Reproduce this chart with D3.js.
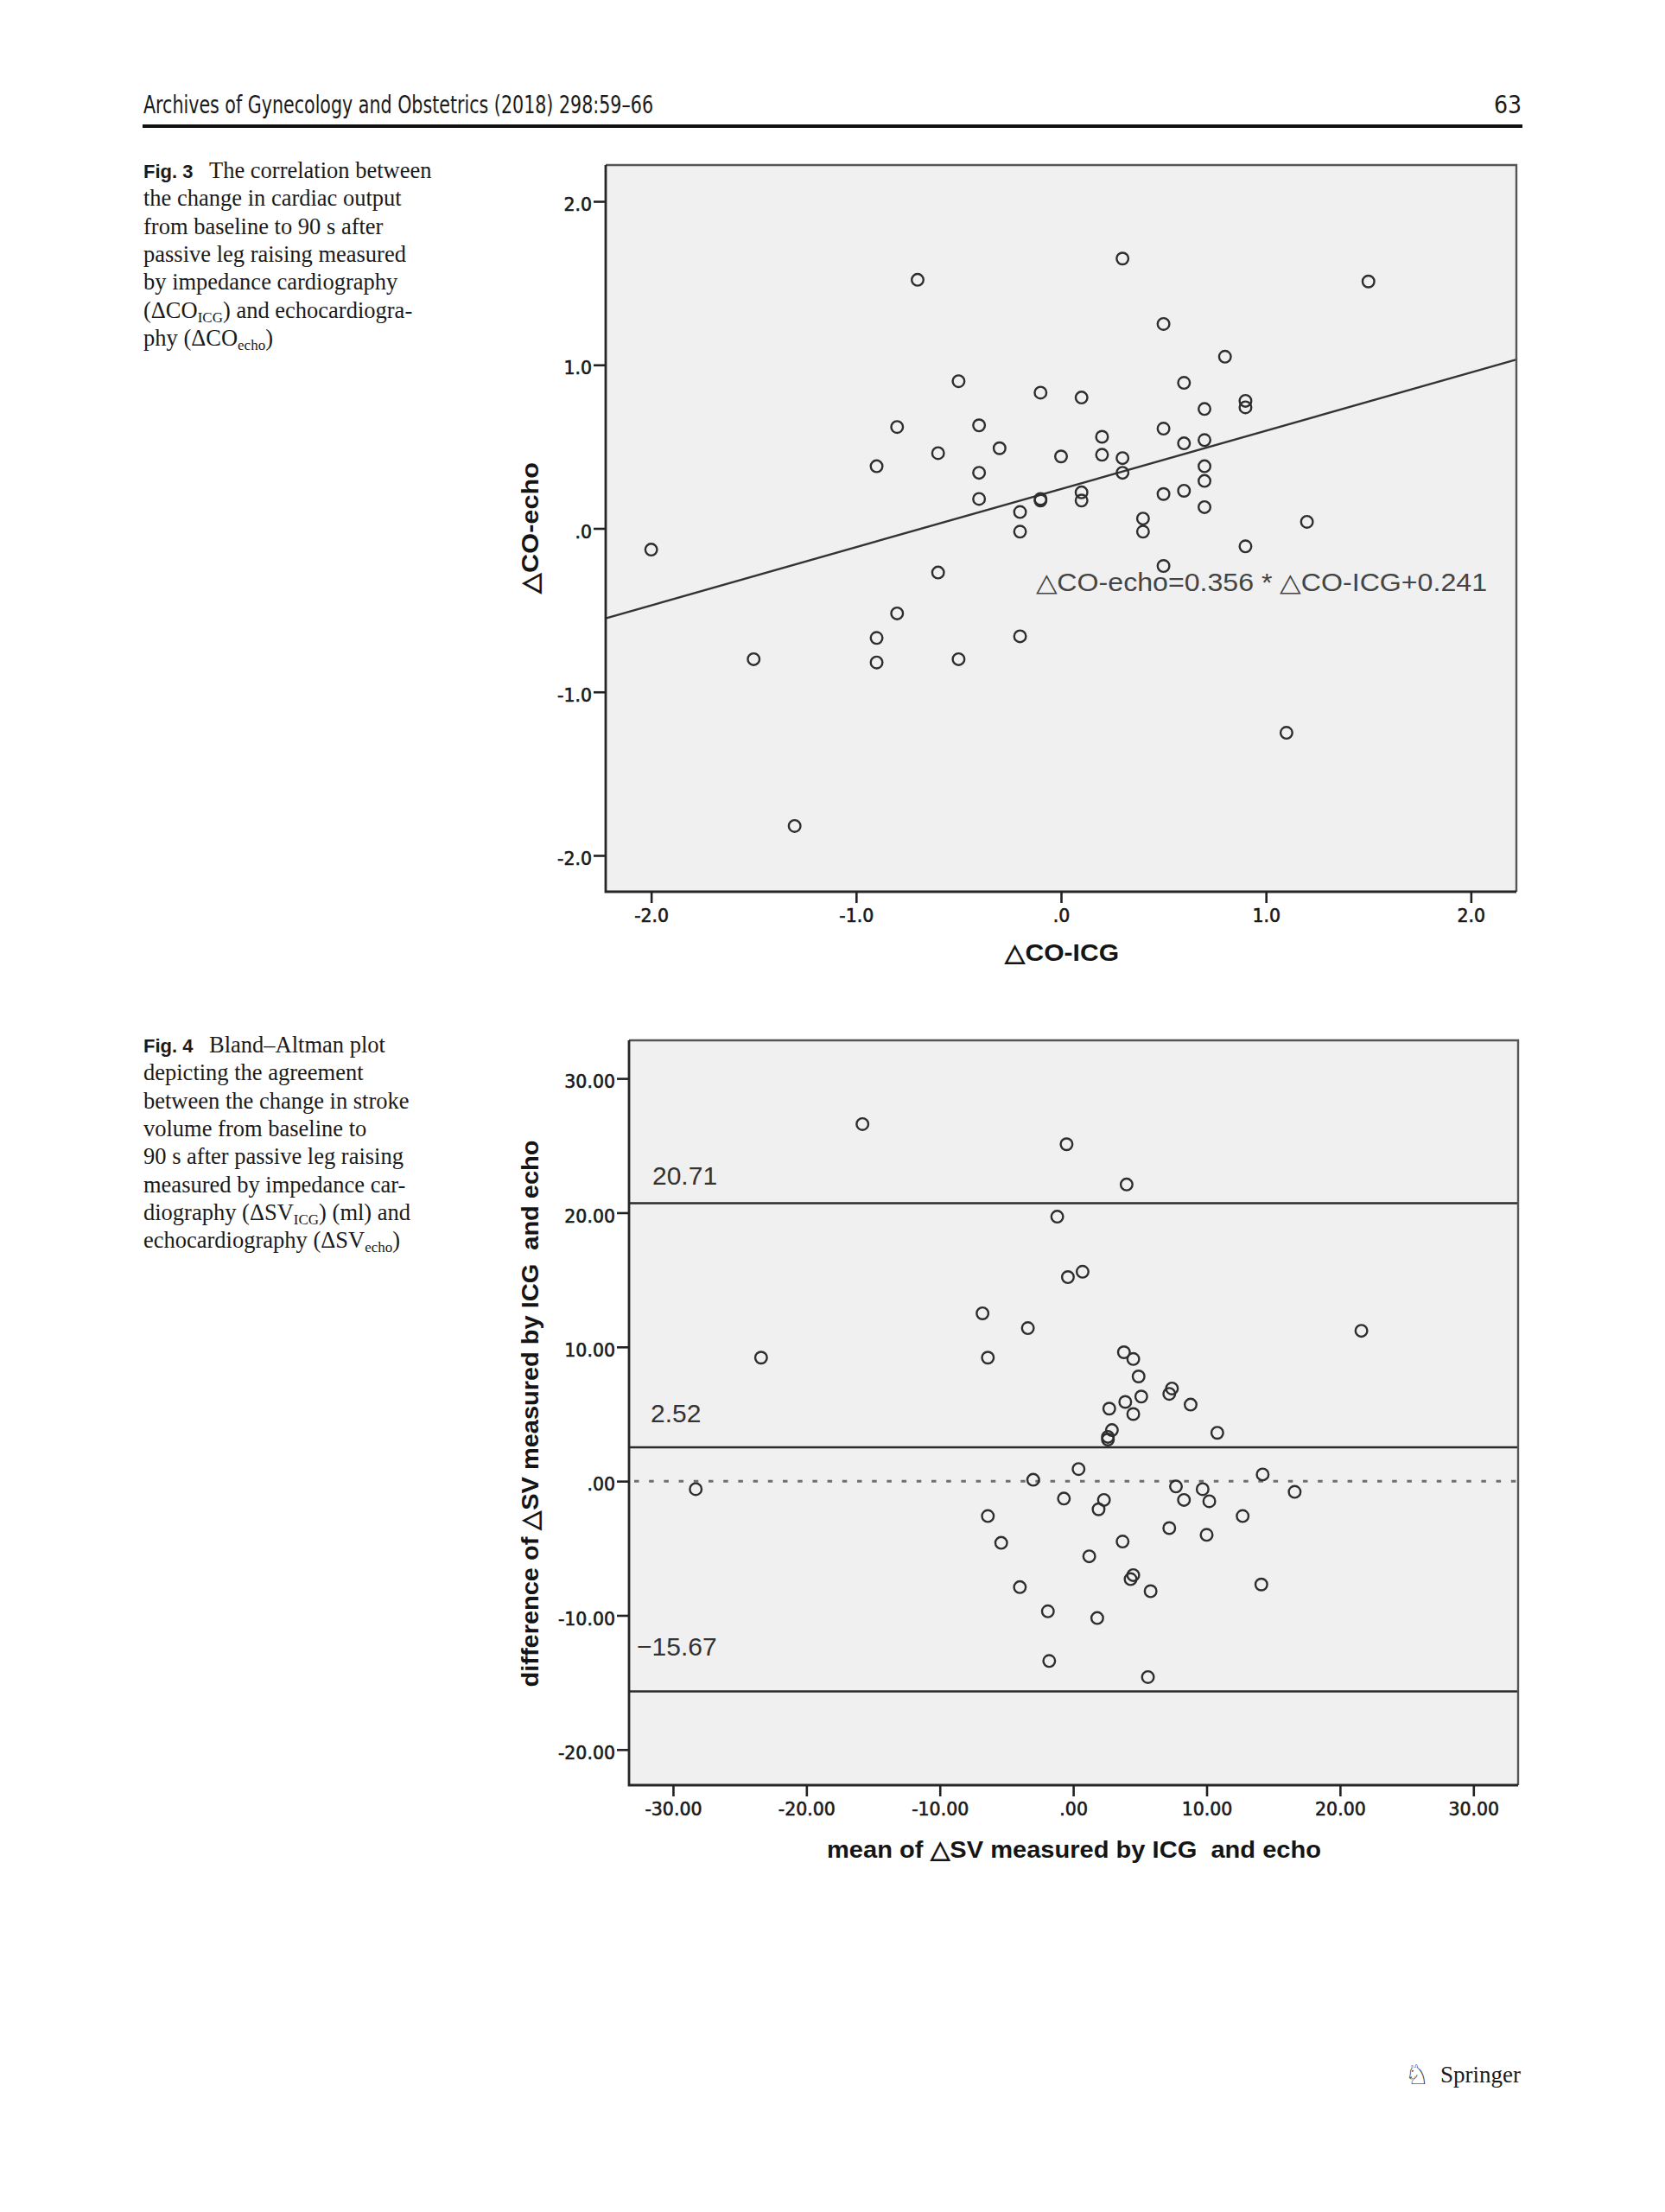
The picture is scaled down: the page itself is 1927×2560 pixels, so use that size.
<!DOCTYPE html>
<html>
<head>
<meta charset="utf-8">
<script src="https://cdn.jsdelivr.net/npm/d3@7"></script>
<style>
  body{margin:0;background:#fff}
  svg{display:block}
  .tick text{font-family:'DejaVu Sans',sans-serif;font-size:20.5px;fill:#1a1a1a;stroke:#1a1a1a;stroke-width:.6px}
  .tick line{stroke:#222;stroke-width:2.6}
</style>
</head>
<body>
<svg id="page" width="1927" height="2560"></svg>
<script>
// ---- Fig. 3 : change in cardiac output, ICG vs echo ----
const coIcg  = [-0.7, 0.3, 1.5, 0.5, 0.8,-0.5, 0.6,-0.1, 0.1, 0.9, 0.9, 0.7,-0.8,-0.4, 0.5, 0.2, 0.6, 0.7,
                -0.6,-0.3, 0.0, 0.2, 0.3,-0.9,-0.4, 0.3, 0.7, 0.7,-0.4,-0.1,-0.1, 0.1, 0.1, 0.5, 0.6, 0.7,
                -0.2,-0.2, 0.4, 0.4, 1.2,-2.0, 0.9, 0.5,-0.6,-0.8,-0.9,-0.2,-1.5,-0.9,-0.5, 1.1,-1.3];
const coEcho = [1.52,1.65,1.51,1.25,1.05,0.90,0.89,0.83,0.80,0.78,0.74,0.73,0.62,0.63,0.61,0.56,0.52,0.54,
                0.46,0.49,0.44,0.45,0.43,0.38,0.34,0.34,0.38,0.29,0.18,0.18,0.17,0.22,0.17,0.21,0.23,0.13,
                0.10,-0.02,0.06,-0.02,0.04,-0.13,-0.11,-0.23,-0.27,-0.52,-0.67,-0.66,-0.80,-0.82,-0.80,-1.25,-1.82];
const coTicks = [-2,-1,0,1,2];
const coTickLabels = ['-2.0','-1.0','.0','1.0','2.0'];
const regSlope = 0.356, regIntercept = 0.241;

// ---- Fig. 4 : Bland-Altman of change in stroke volume ----
const svMean = [-15.8,-0.5, 4.0,-1.2,-0.4, 0.7,-6.8,-3.4,21.6,-23.4,-6.4, 3.8, 4.5, 4.9, 7.4, 7.2, 5.1, 3.9,
                 2.7, 4.5, 8.8,10.8, 2.9, 2.6, 2.6, 0.4,-3.0,14.2,-28.3, 7.7, 9.7,-0.7, 2.3, 1.9, 8.3,10.2,
                16.6,-6.4,12.7, 7.2,10.0,-5.4, 3.7, 1.2, 4.5, 4.3,-4.0, 5.8,14.1,-1.9, 1.8,-1.8, 5.6];
const svDiff = [26.6,25.1,22.1,19.7,15.2,15.6,12.5,11.4,11.2, 9.2, 9.2, 9.6, 9.1, 7.8, 6.9, 6.5, 6.3, 5.9,
                 5.4, 5.0, 5.7, 3.6, 3.8, 3.3, 3.1, 0.9, 0.1, 0.5,-0.6,-0.4,-0.6,-1.3,-1.4,-2.1,-1.4,-1.5,
                -0.8,-2.6,-2.6,-3.5,-4.0,-4.6,-4.5,-5.6,-7.0,-7.3,-7.9,-8.2,-7.7,-9.7,-10.2,-13.4,-14.6];
const svXTicks = [-30,-20,-10,0,10,20,30];
const svXTickLabels = ['-30.00','-20.00','-10.00','.00','10.00','20.00','30.00'];
const svYTicks = [-20,-10,0,10,20,30];
const svYTickLabels = ['-20.00','-10.00','.00','10.00','20.00','30.00'];
const loaValues = [20.71, 2.52, -15.67];
const loaLabels = ['20.71','2.52','\u221215.67'];

// ---- captions ----
const cap3 = [
  [{t:'The correlation between'}],
  [{t:'the change in cardiac output'}],
  [{t:'from baseline to 90 s after'}],
  [{t:'passive leg raising measured'}],
  [{t:'by impedance cardiography'}],
  [{t:'(\u0394CO'},{t:'ICG',sub:1},{t:') and echocardiogra-'}],
  [{t:'phy (\u0394CO'},{t:'echo',sub:1},{t:')'}]
];
const cap4 = [
  [{t:'Bland\u2013Altman plot'}],
  [{t:'depicting the agreement'}],
  [{t:'between the change in stroke'}],
  [{t:'volume from baseline to'}],
  [{t:'90 s after passive leg raising'}],
  [{t:'measured by impedance car-'}],
  [{t:'diography (\u0394SV'},{t:'ICG',sub:1},{t:') (ml) and'}],
  [{t:'echocardiography (\u0394SV'},{t:'echo',sub:1},{t:')'}]
];

const svg = d3.select('#page');
const SANS = "'Liberation Sans',Arial,sans-serif";

// page header
svg.append('text').attr('x',166).attr('y',131)
  .style('font-family',"'Liberation Sans Narrow','DejaVu Sans Condensed',sans-serif").style('font-size','28px').attr('fill','#1a1a1a')
  .attr('textLength',590).attr('lengthAdjust','spacingAndGlyphs')
  .text('Archives of Gynecology and Obstetrics (2018) 298:59\u201366');
svg.append('text').attr('x',1761).attr('y',131).attr('text-anchor','end')
  .style('font-family',"'Liberation Sans Narrow','DejaVu Sans Condensed',sans-serif").style('font-size','28px').attr('fill','#1a1a1a')
  .text('63');
svg.append('rect').attr('x',165).attr('y',144).attr('width',1597).attr('height',4).attr('fill','#111');

function caption(num, lines, y0){
  const g = svg.append('g');
  g.append('text').attr('x',166).attr('y',y0)
    .style('font-family',SANS).style('font-weight','bold').style('font-size','22px').attr('fill','#1a1a1a')
    .text('Fig. '+num);
  lines.forEach((segs,i)=>{
    const t = g.append('text').attr('x', i===0 ? 242 : 166).attr('y', y0 + i*32.3)
      .style('font-family',"'Liberation Serif','Times New Roman',serif").style('font-size','26.5px').attr('fill','#1a1a1a');
    segs.forEach(s=>{
      const sp = t.append('tspan').text(s.t);
      if(s.sub) sp.style('font-size','17px').attr('dy',5);
      else if(t.selectAll('tspan').size()>1) sp.attr('dy',-5);
    });
  });
}
caption(3, cap3, 206);
caption(4, cap4, 1218);

function panel(x, y){
  const g = svg.append('g');
  const [x0,x1] = x.range(), [y1,y0] = y.range();
  g.append('rect').attr('x',x0).attr('y',y0).attr('width',x1-x0).attr('height',y1-y0).attr('fill','#f0f0f0');
  return g;
}
function frameLines(g, x, y){
  const [x0,x1] = x.range(), [y1,y0] = y.range();
  g.append('path').attr('d',`M${x0},${y0}H${x1}V${y1}`).attr('fill','none').attr('stroke','#555').attr('stroke-width',2.4);
  g.append('path').attr('d',`M${x0},${y0}V${y1}H${x1}`).attr('fill','none').attr('stroke','#262626').attr('stroke-width',2.8);
}
function axes(g, x, y, xt, xl, yt, yl){
  const [y1] = y.range(), [x0] = x.range();
  const ax = g.append('g').attr('transform',`translate(0,${y1})`)
    .call(d3.axisBottom(x).tickValues(xt).tickFormat((d,i)=>xl[i]).tickSize(13).tickSizeOuter(0).tickPadding(7));
  const ay = g.append('g').attr('transform',`translate(${x0},0)`)
    .call(d3.axisLeft(y).tickValues(yt).tickFormat((d,i)=>yl[i]).tickSize(14).tickSizeOuter(0).tickPadding(2));
  ay.selectAll('.tick text').attr('dy','0.52em');
  ax.select('.domain').remove(); ay.select('.domain').remove();
}
function title(g, txt, x, y, len, rot){
  const t = g.append('text').attr('text-anchor','middle')
    .style('font-family',SANS).style('font-weight','bold').style('font-size','28px').attr('fill','#151515')
    .attr('textLength',len).attr('lengthAdjust','spacingAndGlyphs').text(txt);
  if(rot) t.attr('transform',`translate(${x},${y}) rotate(-90)`);
  else t.attr('x',x).attr('y',y);
}
function dots(g, x, y, xs, ys){
  g.append('g').selectAll('circle').data(xs.map((v,i)=>[v,ys[i]])).join('circle')
    .attr('cx',d=>x(d[0])).attr('cy',d=>y(d[1])).attr('r',6.8)
    .attr('fill','none').attr('stroke','#2e2e2e').attr('stroke-width',2.4);
}

// ===== Fig. 3 =====
const x3 = d3.scaleLinear().domain([-2.222,2.222]).range([701,1755]);
const y3 = d3.scaleLinear().domain([-2.222,2.222]).range([1032,191]);
const g3 = panel(x3,y3);
g3.append('line')
  .attr('x1',x3(x3.domain()[0])).attr('y1',y3(regSlope*x3.domain()[0]+regIntercept))
  .attr('x2',x3(x3.domain()[1])).attr('y2',y3(regSlope*x3.domain()[1]+regIntercept))
  .attr('stroke','#333').attr('stroke-width',2.4);
dots(g3, x3, y3, coIcg, coEcho);
g3.append('text').attr('x',1199).attr('y',684)
  .style('font-family',SANS).style('font-size','29px').attr('fill','#444')
  .attr('textLength',522).attr('lengthAdjust','spacingAndGlyphs')
  .text('\u25B3CO-echo=0.356 * \u25B3CO-ICG+0.241');
frameLines(g3,x3,y3);
axes(g3, x3, y3, coTicks, coTickLabels, coTicks, coTickLabels);
title(g3,'\u25B3CO-ICG',1229,1112,132,false);
title(g3,'\u25B3CO-echo',623,611,152,true);

// ===== Fig. 4 =====
const x4 = d3.scaleLinear().domain([-33.3,33.35]).range([728,1757]);
const y4 = d3.scaleLinear().domain([-22.65,32.84]).range([2066,1204]);
const g4 = panel(x4,y4);
g4.append('line').attr('x1',x4.range()[0]+6).attr('x2',x4.range()[1]).attr('y1',y4(0)).attr('y2',y4(0))
  .attr('stroke','#6e6e6e').attr('stroke-width',3).attr('stroke-dasharray','5.5,11.7');
g4.append('g').selectAll('line').data(loaValues).join('line')
  .attr('x1',x4.range()[0]).attr('x2',x4.range()[1]).attr('y1',d=>y4(d)).attr('y2',d=>y4(d))
  .attr('stroke','#2b2b2b').attr('stroke-width',2.4);
const loaPos = [[755,1371],[753,1646],[737,1916]];
g4.append('g').selectAll('text').data(loaLabels).join('text')
  .attr('x',(d,i)=>loaPos[i][0]).attr('y',(d,i)=>loaPos[i][1])
  .style('font-family',SANS).style('font-size','30px').attr('fill','#333').text(d=>d);
dots(g4, x4, y4, svMean, svDiff);
frameLines(g4,x4,y4);
axes(g4, x4, y4, svXTicks, svXTickLabels, svYTicks, svYTickLabels);
title(g4,'mean of \u25B3SV measured by ICG\u00A0 and echo',1243,2150,572,false);
title(g4,'difference of \u25B3SV measured by ICG\u00A0 and echo',623,1636,633,true);

// footer
svg.append('text').attr('x',1640).attr('y',2412).attr('text-anchor','middle')
  .style('font-family',"'DejaVu Sans',sans-serif").style('font-size','32px').attr('fill','#222').text('\u2658');
svg.append('text').attr('x',1760).attr('y',2410).attr('text-anchor','end')
  .style('font-family',"'Liberation Serif',serif").style('font-size','27px').attr('fill','#1a1a1a').text('Springer');
</script>
</body>
</html>
